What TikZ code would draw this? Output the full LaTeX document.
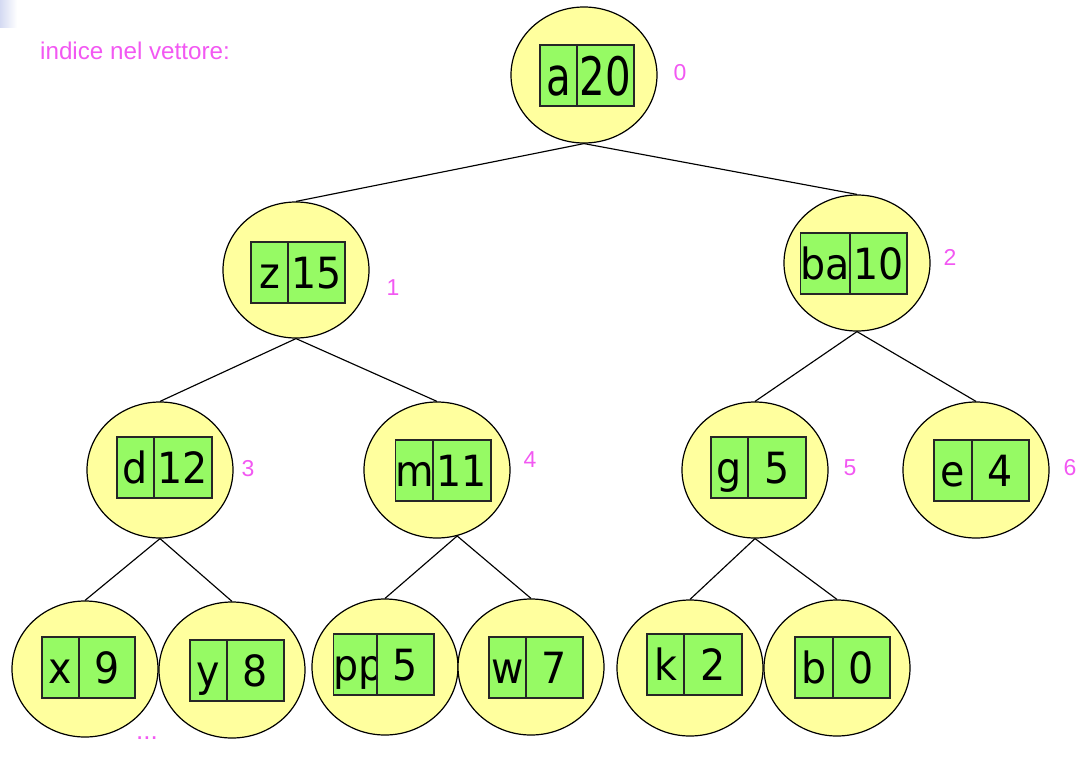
\documentclass[tikz,border=0pt]{standalone}
\usepackage{fontspec}
\usetikzlibrary{shapes.geometric}
\newfontfamily\labelfont{Liberation Sans}
\newfontfamily\keyfont[FakeStretch=0.92]{DejaVu Sans}
\newfontfamily\rootkeyfont[FakeStretch=0.76]{DejaVu Sans}
\definecolor{heapyellow}{RGB}{255,255,158}
\definecolor{cellgreen}{RGB}{150,250,100}
\definecolor{idxpink}{RGB}{242,88,242}
\definecolor{cornerblue}{RGB}{212,218,242}
\tikzset{
  heap/.style={ellipse, draw=black, line width=1.2pt, fill=heapyellow,
    minimum width=146, minimum height=136, inner sep=0},
  cell/.style={rectangle, draw=black!85, line width=1.1pt, fill=cellgreen,
    inner sep=0, minimum height=61, text height=31pt, text depth=0pt,
    font=\keyfont\fontsize{43}{43}\selectfont},
  rootcell/.style={cell, text height=39pt,
    font=\rootkeyfont\fontsize{53}{53}\selectfont},
  idx/.style={text=idxpink, font=\labelfont\fontsize{23}{23}\selectfont, inner sep=0},
  link/.style={draw=black, line width=1.15pt}
}
% heap element: name, centre x, centre y, box left, divider, box right, box top, key, value
\newcommand\heapnode[9]{%
  \node[heap] (#1) at (#2,#3) {};
  \node[cell, minimum width={#5-#4}] (#1k) at ({(#4+#5)/2},{#7+30.5}) {#8};
  \node[cell, minimum width={#6-#5}] (#1v) at ({(#5+#6)/2},{#7+30.5}) {#9};
}
\begin{document}
\begin{tikzpicture}[x=1pt, y=-1pt]
\useasboundingbox (0,0) rectangle (1090,772);
\shade[left color=cornerblue, right color=white] (0,0) rectangle (17,27);

% root
\node[heap] (n0) at (584,75) {};
\node[rootcell, minimum width=37] (n0k) at (558.5,75.5) {a};
\node[rootcell, minimum width=57] (n0v) at (605.5,75.5) {20};

\heapnode{n1}{296}{270}{251}{288}{345}{242}{z}{15}
\heapnode{n2}{857}{263}{801}{850}{907}{233}{ba}{10}
\heapnode{n3}{160}{470}{117}{154}{212}{437}{d}{12}
\heapnode{n4}{437}{470}{396}{433}{491}{440}{m}{11}
\heapnode{n5}{755}{470}{711}{748}{806}{437}{g}{5}
\heapnode{n6}{976}{470}{934}{972}{1029}{440}{e}{4}
\heapnode{n7}{85}{669}{42}{79}{135}{637}{x}{9}
\heapnode{n8}{232}{670}{190}{227}{284}{640}{y}{8}
\heapnode{n9}{385}{667}{340}{377}{434}{634}{pp}{5}
\heapnode{n10}{531}{667}{489}{526}{583}{637}{w}{7}
\heapnode{n11}{690}{668}{647}{684}{742}{634}{k}{2}
\heapnode{n12}{837}{668}{795}{833}{890}{637}{b}{0}

% tree links
\draw[link] (n0.south) -- (n1.north);
\draw[link] (n0.south) -- (n2.north);
\draw[link] (n1.south) -- (n3.north);
\draw[link] (n1.south) -- (n4.north);
\draw[link] (n2.south) -- (n5.north);
\draw[link] (n2.south) -- (n6.north);
\draw[link] (n3.south) -- (n7.north);
\draw[link] (n3.south) -- (n8.north);
\draw[link] (n4.-73) -- (n9.north);
\draw[link] (n4.-73) -- (n10.north);
\draw[link] (n5.south) -- (n11.north);
\draw[link] (n5.south) -- (n12.north);

% array indices
\node[idx, anchor=west, font=\labelfont\fontsize{24.2}{24.2}\selectfont] (title) at (40,51) {indice nel vettore:};
\node[idx] (i0) at (680,73) {0};
\node[idx] (i1) at (393,288) {1};
\node[idx] (i2) at (950,257) {2};
\node[idx] (i3) at (248,469) {3};
\node[idx] (i4) at (530,460) {4};
\node[idx] (i5) at (850,468) {5};
\node[idx] (i6) at (1070,468) {6};
\node[idx, font=\labelfont\fontsize{26}{26}\selectfont] (more) at (147,738) {...};
\end{tikzpicture}
\end{document}
